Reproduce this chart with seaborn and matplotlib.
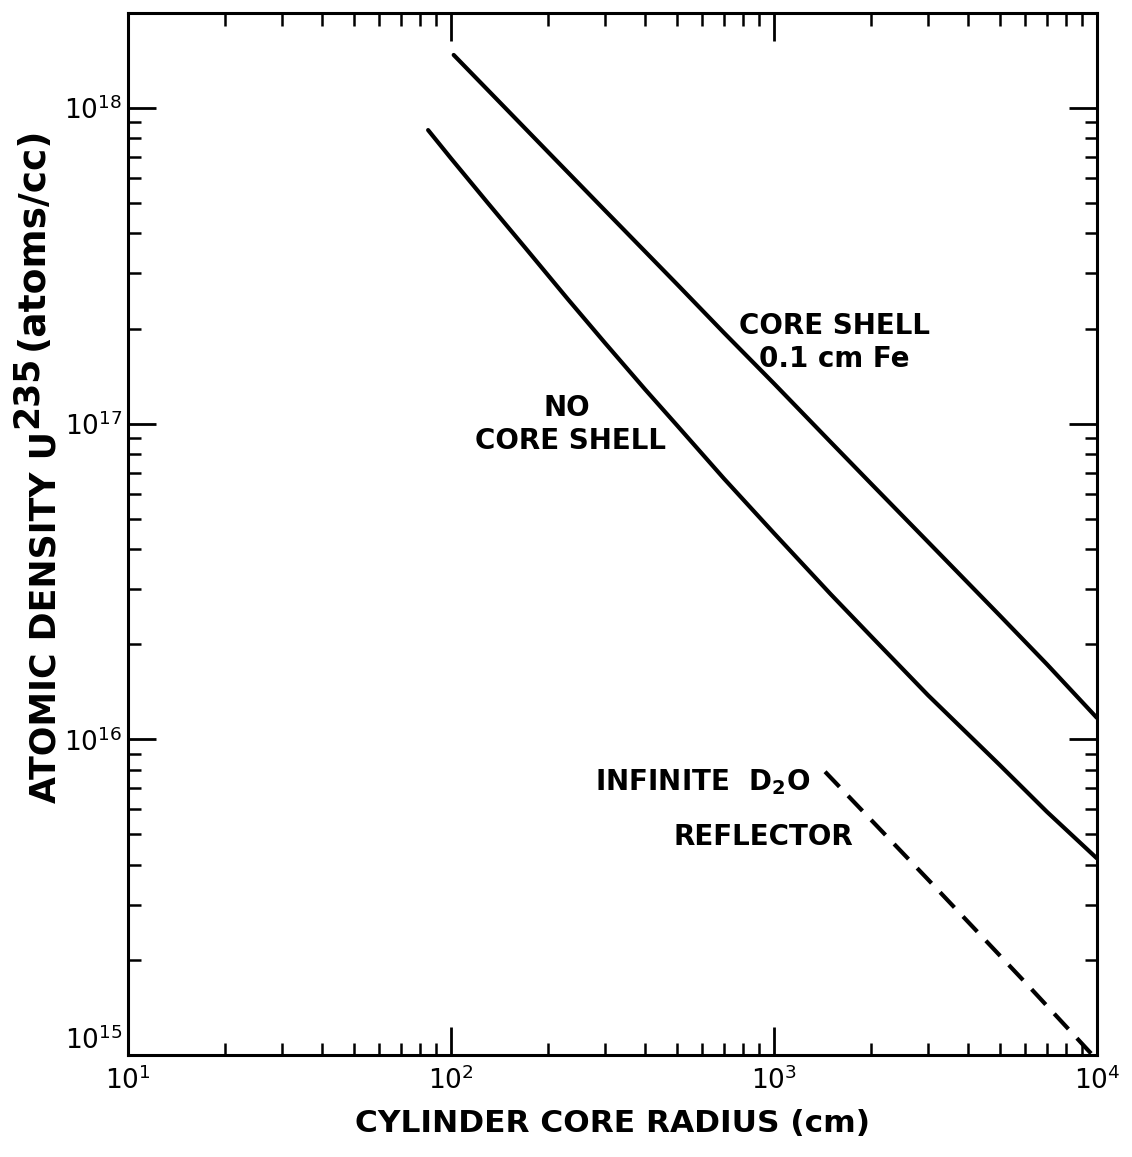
import numpy as np
import pandas as pd
import matplotlib
matplotlib.use("Agg")
import matplotlib.pyplot as plt
from matplotlib.ticker import FuncFormatter
import seaborn as sns

# values (log-log)
radius_shell = [102, 150, 200, 300, 500, 700, 1000, 1500, 2000, 3000, 5000, 7000, 10000]
density_shell = [1.47e18, 9.8e17, 7.24e17, 4.73e17, 2.77e17, 1.94e17, 1.34e17,
                 8.73e16, 6.45e16, 4.22e16, 2.47e16, 1.73e16, 1.17e16]

radius_noshell = [85, 100, 130, 170, 230, 300, 400, 500, 700, 1000, 1500, 2000,
                  3000, 5000, 7000, 10000]
density_noshell = [8.5e17, 6.92e17, 5.0e17, 3.6e17, 2.48e17, 1.8e17, 1.28e17, 9.9e16,
                   6.7e16, 4.5e16, 2.88e16, 2.12e16, 1.38e16, 8.3e15, 5.9e15, 4.2e15]

radius_d2o = [1440, 3000, 6000, 9700]
density_d2o = [7.9e15, 3.6e15, 1.7e15, 1.0e15]

sns.set_style("ticks")
plt.rcParams['font.family'] = ['DejaVu Sans']
plt.rcParams['mathtext.fontset'] = 'dejavusans'

fig = plt.figure(figsize=(11.32, 11.57), dpi=100)
ax = fig.add_axes([0.113, 0.088, 0.856, 0.901])

df_shell = pd.DataFrame({'r': radius_shell, 'n': density_shell})
df_noshell = pd.DataFrame({'r': radius_noshell, 'n': density_noshell})
df_d2o = pd.DataFrame({'r': radius_d2o, 'n': density_d2o})

sns.lineplot(data=df_shell, x='r', y='n', color='black', lw=3, ax=ax)
sns.lineplot(data=df_noshell, x='r', y='n', color='black', lw=3, ax=ax)
sns.lineplot(data=df_d2o, x='r', y='n', color='black', lw=3, ax=ax,
             linestyle=(0, (5, 3)))

ax.set_xscale('log')
ax.set_yscale('log')
ax.set_xlim(10, 1e4)
ax.set_ylim(1e15, 2e18)

for s in ax.spines.values():
    s.set_linewidth(2.2)
    s.set_color('black')
    s.set_visible(True)

ax.tick_params(which='major', direction='in', length=20, width=2, color='black',
               top=True, right=True, labelsize=19, labelcolor='black', pad=4)
ax.tick_params(which='minor', direction='in', length=9, width=1.8, color='black',
               top=True, right=True)
fmt = FuncFormatter(lambda v, p: r'$\mathdefault{10^{%d}}$' % round(np.log10(v)))
ax.xaxis.set_major_formatter(fmt)
ax.yaxis.set_major_formatter(fmt)
ax.tick_params(axis='x', pad=8)

ax.set_xlabel('CYLINDER CORE RADIUS (cm)', fontsize=22.5, labelpad=10,
              color='black', fontweight='bold')
ax.set_ylabel('')

fig.canvas.draw()
# bottom y label (10^15) sits above the corner like in the original
for t in ax.get_yticklabels():
    if abs(t.get_position()[1] - 1e15) < 1:
        t.set_verticalalignment('bottom')

# y label built in pieces: raised "235" and "(atoms/cc)"
H = 1157.0
W = 1132.0
lab = fig.text(46 / W, 1 - 617 / H, 'ATOMIC DENSITY U', rotation=90, fontsize=25,
               ha='center', va='center', color='black', fontweight='bold')
fig.canvas.draw()
bb = lab.get_window_extent()
sup = fig.text(27 / W, (bb.y1 + 3) / H, '235', rotation=90, fontsize=25,
               ha='center', va='bottom', color='black', fontweight='bold')
fig.canvas.draw()
bb2 = sup.get_window_extent()
fig.text(33 / W, (bb2.y1 + 6) / H, '(atoms/cc)', rotation=90, fontsize=27,
         ha='center', va='bottom', color='black', fontweight='bold')

txt = dict(fontsize=20, ha='center', va='center', color='black', fontweight='bold')
ax.text(1535, 2.04e17, 'CORE SHELL', **txt)
ax.text(1535, 1.6e17, '0.1 cm Fe', **txt)
ax.text(228, 1.12e17, 'NO', **txt)
ax.text(235, 8.8e16, 'CORE SHELL', **txt)
ax.text(600, 7.3e15, r'INFINITE  D$_\mathbf{2}$O', **txt)
ax.text(930, 4.9e15, 'REFLECTOR', **txt)

plt.savefig('out.png', dpi=100)
